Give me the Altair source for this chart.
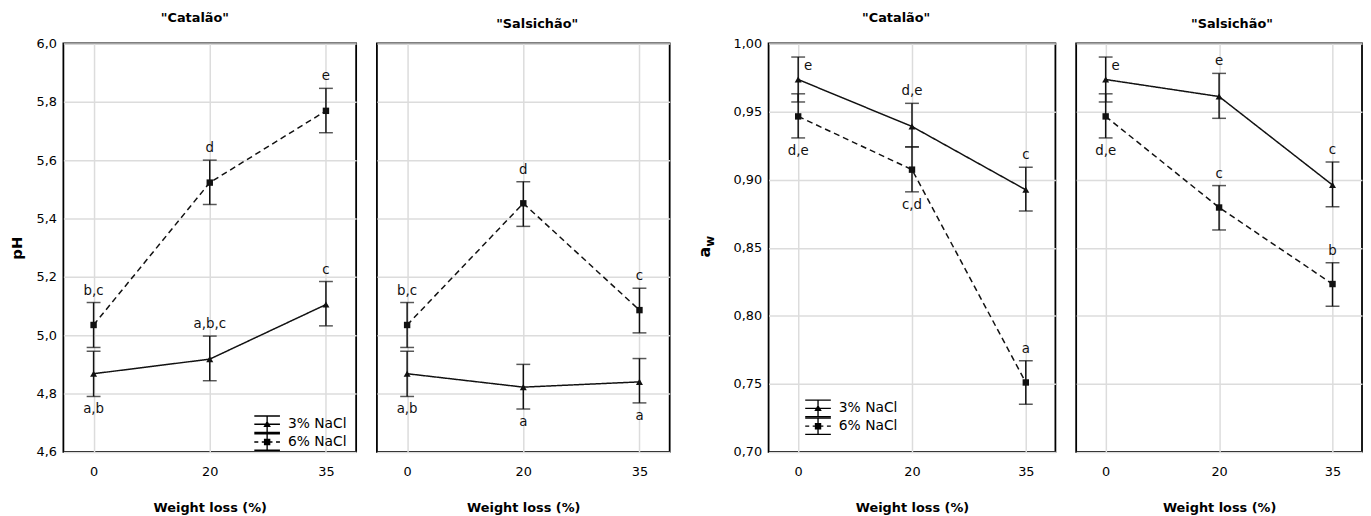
import altair as alt
import pandas as pd

FONT = "DejaVu Sans"
GRID = "#dcdcdc"

x_labels = ["0", "20", "35"]
series_names = ["3% NaCl", "6% NaCl"]

# ---- pH, "Catalão"
ph_cat_3_mean = [4.868, 4.918, 5.105]
ph_cat_3_lo = [4.790, 4.844, 5.032]
ph_cat_3_hi = [4.945, 4.997, 5.184]
ph_cat_3_lab = ["a,b", "a,b,c", "c"]
ph_cat_3_pos = ["below", "above", "above"]

ph_cat_6_mean = [5.035, 5.523, 5.769]
ph_cat_6_lo = [4.958, 5.448, 5.694]
ph_cat_6_hi = [5.112, 5.600, 5.846]
ph_cat_6_lab = ["b,c", "d", "e"]
ph_cat_6_pos = ["above", "above", "above"]

# ---- pH, "Salsichão"
ph_sal_3_mean = [4.868, 4.822, 4.840]
ph_sal_3_lo = [4.790, 4.747, 4.768]
ph_sal_3_hi = [4.945, 4.900, 4.920]
ph_sal_3_lab = ["a,b", "a", "a"]
ph_sal_3_pos = ["below", "below", "below"]

ph_sal_6_mean = [5.035, 5.452, 5.086]
ph_sal_6_lo = [4.958, 5.373, 5.008]
ph_sal_6_hi = [5.112, 5.526, 5.161]
ph_sal_6_lab = ["b,c", "d", "c"]
ph_sal_6_pos = ["above", "above", "above"]

# ---- aw, "Catalão"
aw_cat_3_mean = [0.9735, 0.939, 0.8925]
aw_cat_3_lo = [0.957, 0.924, 0.877]
aw_cat_3_hi = [0.990, 0.956, 0.909]
aw_cat_3_lab = ["e", "d,e", "c"]
aw_cat_3_pos = ["right", "above", "above"]

aw_cat_6_mean = [0.9464, 0.9073, 0.751]
aw_cat_6_lo = [0.9306, 0.891, 0.735]
aw_cat_6_hi = [0.963, 0.924, 0.767]
aw_cat_6_lab = ["d,e", "c,d", "a"]
aw_cat_6_pos = ["below", "below", "above"]

# ---- aw, "Salsichão"
aw_sal_3_mean = [0.9735, 0.961, 0.896]
aw_sal_3_lo = [0.957, 0.945, 0.880]
aw_sal_3_hi = [0.990, 0.978, 0.913]
aw_sal_3_lab = ["e", "e", "c"]
aw_sal_3_pos = ["right", "above", "above"]

aw_sal_6_mean = [0.9464, 0.8795, 0.8233]
aw_sal_6_lo = [0.9306, 0.863, 0.807]
aw_sal_6_hi = [0.963, 0.8956, 0.839]
aw_sal_6_lab = ["d,e", "c", "b"]
aw_sal_6_pos = ["below", "above", "above"]

ph_ticks = [4.6, 4.8, 5.0, 5.2, 5.4, 5.6, 5.8, 6.0]
aw_ticks = [0.70, 0.75, 0.80, 0.85, 0.90, 0.95, 1.00]


def rect(x0, y0, w, h):
    return f"M{x0},{y0}H{round(x0 + w, 3)}V{round(y0 + h, 3)}H{x0}Z"


# legend glyphs: error bar + line piece + marker (unit coords, scaled by symbol size)
W = 1.44
T = 0.15
GLYPH_BASE = rect(-W, -1.0, 2 * W, T) + rect(-W, 1.0 - T, 2 * W, T) + rect(-T / 2, -1.0, T, 2.0)
PATH3 = GLYPH_BASE + rect(-W, -T / 2, 2 * W, T) + "M-0.42,0.3L0,-0.42L0.42,0.3Z"
PATH6 = (GLYPH_BASE + rect(-W, -T / 2, 0.45, T) + rect(-0.6, -T / 2, 1.2, T)
         + rect(1.0, -T / 2, 0.44, T) + rect(-0.36, -0.36, 0.72, 0.72))


def build_df(a, b):
    recs = []
    for s, (m, lo, hi, lab, pos) in zip(series_names, [a, b]):
        for i, x in enumerate(x_labels):
            recs.append({"x": x, "series": s, "mean": m[i], "lo": lo[i], "hi": hi[i],
                         "lab": lab[i], "pos": pos[i]})
    return pd.DataFrame(recs)


def panel(df, title, title_dx, width, ydomain, yvalues, fmt, show_labels, ytitle, legend_xy, aw_title=False):
    xenc = alt.X("x:N", sort=x_labels, scale=alt.Scale(type="point", padding=0.26),
                 axis=alt.Axis(title="Weight loss (%)", labelAngle=0, ticks=False, domain=False,
                               grid=True, labelPadding=14, titlePadding=23))
    axis_kw = dict(values=yvalues, grid=True, ticks=False, domain=False, labels=show_labels,
                   labelExpr=f"replace(format(datum.value, '{fmt}'), '.', ',')", labelPadding=7)
    if ytitle:
        axis_kw.update(title=ytitle, titleFontSize=15, titlePadding=12)
    else:
        axis_kw.update(title=None)
    yscale = alt.Scale(domain=ydomain, nice=False, zero=False)
    base = alt.Chart(df).encode(x=xenc)

    rule = base.mark_rule(color="#111", strokeWidth=1.5).encode(
        y=alt.Y("lo:Q", scale=yscale, axis=alt.Axis(**axis_kw)), y2="hi:Q")
    cap_lo = base.mark_tick(color="#111", size=14, thickness=1.5, orient="horizontal").encode(y="lo:Q")
    cap_hi = base.mark_tick(color="#111", size=14, thickness=1.5, orient="horizontal").encode(y="hi:Q")
    line = base.mark_line(color="#111", strokeWidth=1.5).encode(
        y="mean:Q", detail="series:N",
        strokeDash=alt.StrokeDash("series:N", scale=alt.Scale(domain=series_names, range=[[1, 0], [6, 4]]),
                                  legend=None))
    pts3 = base.transform_filter(alt.datum.series == series_names[0]).mark_point(
        filled=True, color="#111", opacity=1, shape="triangle-up", size=50).encode(y="mean:Q")
    pts6 = base.transform_filter(alt.datum.series == series_names[1]).mark_point(
        filled=True, color="#111", opacity=1, shape="square", size=42).encode(y="mean:Q")
    t_above = base.transform_filter(alt.datum.pos == "above").mark_text(
        baseline="bottom", dy=-5, fontSize=13.5, font=FONT, color="#111").encode(y="hi:Q", text="lab:N")
    t_below = base.transform_filter(alt.datum.pos == "below").mark_text(
        baseline="top", dy=6, fontSize=13.5, font=FONT, color="#111").encode(y="lo:Q", text="lab:N")
    t_right = base.transform_filter(alt.datum.pos == "right").mark_text(
        align="left", baseline="top", dx=6, dy=2, fontSize=13.5, font=FONT, color="#111").encode(
        y="hi:Q", text="lab:N")

    layers = [rule, cap_lo, cap_hi, line, pts3, pts6, t_above, t_below, t_right]

    if legend_xy is not None:
        leg = alt.Chart(df).transform_filter("false").mark_point(filled=True, color="black", opacity=1).encode(
            shape=alt.Shape("series:N", scale=alt.Scale(domain=series_names, range=[PATH3, PATH6]),
                            legend=alt.Legend(orient="none", legendX=legend_xy[0], legendY=legend_xy[1],
                                              title=None, symbolSize=324, symbolFillColor="black",
                                              symbolStrokeWidth=0, symbolOpacity=1, labelFontSize=14,
                                              labelFont=FONT, labelColor="black", labelOffset=12,
                                              rowPadding=0, padding=0)))
        layers.append(leg)

    if aw_title:
        tdf = pd.DataFrame({"t": ["a"]})
        a_txt = alt.Chart(tdf).mark_text(angle=270, fontSize=16, fontWeight="bold", font=FONT,
                                         color="black").encode(
            x=alt.value(-64), y=alt.value(211), text=alt.value("a"))
        w_txt = alt.Chart(tdf).mark_text(angle=270, fontSize=12, fontWeight="bold", font=FONT,
                                         color="black").encode(
            x=alt.value(-59), y=alt.value(200), text=alt.value("w"))
        layers += [a_txt, w_txt]

    return alt.layer(*layers).properties(
        width=width, height=413,
        title=alt.TitleParams(text=title, dx=title_dx, fontSize=13, fontWeight="bold", font=FONT,
                              offset=13, anchor="middle", color="black"),
    ).resolve_scale(shape="independent")


df_ph_cat = build_df((ph_cat_3_mean, ph_cat_3_lo, ph_cat_3_hi, ph_cat_3_lab, ph_cat_3_pos),
                     (ph_cat_6_mean, ph_cat_6_lo, ph_cat_6_hi, ph_cat_6_lab, ph_cat_6_pos))
df_ph_sal = build_df((ph_sal_3_mean, ph_sal_3_lo, ph_sal_3_hi, ph_sal_3_lab, ph_sal_3_pos),
                     (ph_sal_6_mean, ph_sal_6_lo, ph_sal_6_hi, ph_sal_6_lab, ph_sal_6_pos))
df_aw_cat = build_df((aw_cat_3_mean, aw_cat_3_lo, aw_cat_3_hi, aw_cat_3_lab, aw_cat_3_pos),
                     (aw_cat_6_mean, aw_cat_6_lo, aw_cat_6_hi, aw_cat_6_lab, aw_cat_6_pos))
df_aw_sal = build_df((aw_sal_3_mean, aw_sal_3_lo, aw_sal_3_hi, aw_sal_3_lab, aw_sal_3_pos),
                     (aw_sal_6_mean, aw_sal_6_lo, aw_sal_6_hi, aw_sal_6_lab, aw_sal_6_pos))

p1 = panel(df_ph_cat, '"Catalão"', -15, 296, [4.6, 6.0], ph_ticks, ".1f", True, "pH", (197, 376))
p2 = panel(df_ph_sal, '"Salsichão"', 14, 296, [4.6, 6.0], ph_ticks, ".1f", False, None, None)
p3 = panel(df_aw_cat, '"Catalão"', -16, 290, [0.70, 1.00], aw_ticks, ".2f", True, None, (41, 360), aw_title=True)
p4 = panel(df_aw_sal, '"Salsichão"', 13, 289, [0.70, 1.00], aw_ticks, ".2f", False, None, None)

left = alt.hconcat(p1, p2, spacing=19).resolve_scale(shape="independent", strokeDash="independent").resolve_legend(shape="independent")
right = alt.hconcat(p3, p4, spacing=19).resolve_scale(shape="independent", strokeDash="independent").resolve_legend(shape="independent")

chart = alt.hconcat(left, right, spacing=26).resolve_scale(
    shape="independent", strokeDash="independent").resolve_legend(shape="independent").properties(
    padding=0, background="white"
).configure_view(
    stroke="black", strokeWidth=1.8
).configure_axis(
    labelFont=FONT, labelFontSize=13, labelColor="black",
    titleFont=FONT, titleFontSize=13, titleFontWeight="bold", titleColor="black",
    gridColor=GRID, gridWidth=1.5,
)

chart.save("out.html", embed_options={"renderer": "svg", "actions": False})
